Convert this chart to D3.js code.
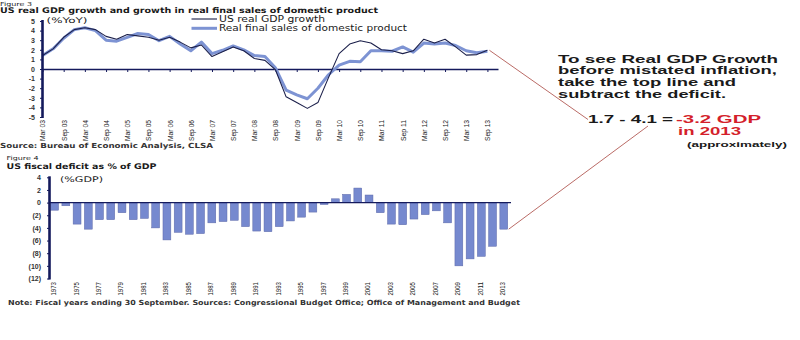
<!DOCTYPE html>
<html>
<head>
<meta charset="utf-8">
<script src="https://cdn.jsdelivr.net/npm/d3@7"></script>
<style>
body { margin: 0; background: #fff; }
svg { display: block; font-family: "DejaVu Sans", Verdana, sans-serif; }
</style>
</head>
<body>
<script>
//quarterly data, Mar 03 .. Sep 13
var quarterTicks = ["Mar 03","Sep 03","Mar 04","Sep 04","Mar 05","Sep 05","Mar 06","Sep 06",
    "Mar 07","Sep 07","Mar 08","Sep 08","Mar 09","Sep 09","Mar 10","Sep 10","Mar 11","Sep 11",
    "Mar 12","Sep 12","Mar 13","Sep 13"];
var gdpGrowth = [1.4, 2.1, 3.3, 4.1, 4.3, 4.1, 3.4, 3.1, 3.6, 3.45, 3.3, 3.0, 3.3, 2.8, 2.2, 2.5,
    1.3, 1.8, 2.3, 1.9, 1.1, 0.9, -0.1, -2.9, -3.5, -4.1, -3.5, -0.9, 1.6, 2.6, 2.95, 2.7,
    2.0, 1.9, 1.6, 1.9, 3.1, 2.7, 3.1, 2.3, 1.45, 1.5, 1.95];
var finalSales = [1.4, 2.1, 3.2, 4.1, 4.3, 4.0, 3.0, 2.9, 3.3, 3.7, 3.6, 2.95, 3.4, 2.6, 1.9, 2.8,
    1.6, 1.95, 2.4, 2.0, 1.4, 1.3, 0.1, -2.2, -2.7, -3.1, -2.0, -0.6, 0.4, 0.8, 0.75, 1.9,
    1.9, 1.85, 2.3, 1.75, 2.7, 2.6, 2.7, 2.45, 1.9, 1.7, 1.85];
var gdpTicks = [-5, -4, -3, -2, -1, 0, 1, 2, 3, 4, 5];

//fiscal years
var years = d3.range(1973, 2014);
var yearTicks = d3.range(1973, 2014, 2);
var deficit = [-1.2, -0.5, -3.4, -4.2, -2.7, -2.7, -1.6, -2.7, -2.5, -4.0, -5.9, -4.7, -5.0, -4.9,
    -3.2, -3.0, -2.8, -3.8, -4.5, -4.6, -3.8, -2.9, -2.3, -1.5, -0.3, 0.6, 1.3, 2.3, 1.2, -1.6,
    -3.4, -3.5, -2.6, -1.9, -1.3, -3.2, -10.0, -8.9, -8.5, -6.9, -4.2];
var deficitTicks = [-12, -10, -8, -6, -4, -2, 0, 2, 4];

var navy = "#141a5c",
    darkLine = "#1b1f4a",
    lightLine = "#7d93d3",
    barFill = "#7689cf",
    red = "#d41f2b",
    textCol = "#1a1a1a";

var svg = d3.select("body").append("svg")
    .attr("width", 800)
    .attr("height", 340);

//text helper, stretched to a measured width
function label(str, x, y, size, weight, len, color){
    var t = svg.append("text")
        .attr("x", x)
        .attr("y", y)
        .style("font-size", size + "px")
        .style("font-weight", weight || "normal")
        .style("fill", color || textCol)
        .text(str);
    if (len) t.attr("textLength", len).attr("lengthAdjust", "spacingAndGlyphs");
    return t;
}

// ---------- Figure 3 ----------
var x1 = d3.scaleLinear().domain([0, 43]).range([42.5, 498]);
var y1 = d3.scaleLinear().domain([-5, 5]).range([117, 21]);

label("Figure 3", 0, 5.5, 5.5, "normal", 32);
label("US real GDP growth and growth in real final sales of domestic product", 0, 12.5, 7.8, "bold", 378);
label("(%YoY)", 46.5, 23, 7.8, "normal", 41);

//x axis at zero
var xAxis1 = d3.axisBottom(x1)
    .tickValues(d3.range(0, 43, 2))
    .tickSize(3)
    .tickSizeOuter(0)
    .tickFormat(function(d){ return quarterTicks[d / 2]; });

var gx1 = svg.append("g")
    .attr("transform", "translate(0," + y1(0) + ")")
    .call(xAxis1);
gx1.select(".domain").attr("stroke", navy).attr("stroke-width", 1.3);
gx1.selectAll(".tick line").attr("stroke", navy);
gx1.selectAll(".tick text")
    .attr("transform", "rotate(-90)")
    .attr("x", -51)
    .attr("y", 0)
    .attr("dy", "0.35em")
    .attr("text-anchor", "end")
    .attr("textLength", 21)
    .attr("lengthAdjust", "spacingAndGlyphs")
    .style("font-family", "'Liberation Sans', Arial, sans-serif")
    .style("font-size", "7px")
    .style("fill", textCol);

//lines
var line1 = d3.line()
    .x(function(d, i){ return x1(i); })
    .y(function(d){ return y1(d); });

svg.append("path")
    .datum(finalSales)
    .attr("d", line1)
    .attr("fill", "none")
    .attr("stroke", lightLine)
    .attr("stroke-width", 3)
    .attr("stroke-linejoin", "round");

svg.append("path")
    .datum(gdpGrowth)
    .attr("d", line1)
    .attr("fill", "none")
    .attr("stroke", darkLine)
    .attr("stroke-width", 1.1)
    .attr("stroke-linejoin", "round");

//y axis
var yAxis1 = d3.axisLeft(y1)
    .tickValues(gdpTicks)
    .tickSize(2.5)
    .tickSizeOuter(0)
    .tickPadding(5)
    .tickFormat(function(d){ return String(d); });

var gy1 = svg.append("g")
    .attr("transform", "translate(42.5,0)")
    .call(yAxis1);
gy1.select(".domain").attr("stroke", navy).attr("stroke-width", 2.6)
    .attr("d", "M0," + (y1(5) - 1) + "V" + (y1(-5) + 1));
gy1.selectAll(".tick line").attr("stroke", navy);
gy1.selectAll(".tick text")
    .style("font-size", "7px")
    .style("font-weight", "bold")
    .style("fill", "#333");

//legend
var legend = [
    {name: "US real GDP growth", color: darkLine, w: 1.1, y: 19, len: 106},
    {name: "Real final sales of domestic product", color: lightLine, w: 3, y: 28.3, len: 188}
];
legend.forEach(function(l){
    svg.append("line")
        .attr("x1", 191.5).attr("x2", 217)
        .attr("y1", l.y).attr("y2", l.y)
        .attr("stroke", l.color)
        .attr("stroke-width", l.w);
    label(l.name, 219, l.y + 2.8, 8.3, "normal", l.len);
});

label("Source: Bureau of Economic Analysis, CLSA", 0, 148, 7, "bold", 213, "#333");

// ---------- Figure 4 ----------
var x2 = d3.scaleBand().domain(years).range([49, 509.4]).paddingInner(0.3).paddingOuter(0.15);
var y2 = d3.scaleLinear().domain([-12, 4]).range([278.5, 177.3]);

label("Figure 4", 6.5, 160, 5.5, "normal", 32);
label("US fiscal deficit as % of GDP", 6.5, 168.5, 7.8, "bold", 150);
label("(%GDP)", 60, 182, 7.8, "normal", 43);

svg.selectAll(".bar")
    .data(deficit)
    .enter()
    .append("rect")
    .attr("class", "bar")
    .attr("x", function(d, i){ return x2(years[i]); })
    .attr("width", x2.bandwidth())
    .attr("y", function(d){ return y2(Math.max(0, d)); })
    .attr("height", function(d){ return Math.abs(y2(d) - y2(0)); })
    .attr("fill", barFill)
    .attr("stroke", "#5c68a8")
    .attr("stroke-width", 0.5);

//x axis at zero
svg.append("line")
    .attr("x1", 49.5).attr("x2", 511)
    .attr("y1", y2(0)).attr("y2", y2(0))
    .attr("stroke", navy)
    .attr("stroke-width", 1.3);

svg.selectAll(".yearLabel")
    .data(yearTicks)
    .enter()
    .append("text")
    .attr("class", "yearLabel")
    .attr("transform", function(d){
        return "translate(" + (x2(d) + x2.bandwidth() / 2 - 1) + ",282) rotate(-90)";
    })
    .attr("dy", "0.35em")
    .attr("text-anchor", "end")
    .attr("textLength", 13.5)
    .attr("lengthAdjust", "spacingAndGlyphs")
    .style("font-family", "'Liberation Sans', Arial, sans-serif")
    .style("font-size", "7px")
    .style("fill", textCol)
    .text(function(d){ return d; });

var yAxis2 = d3.axisLeft(y2)
    .tickValues(deficitTicks)
    .tickSize(2.5)
    .tickSizeOuter(0)
    .tickPadding(6)
    .tickFormat(function(d){ return d < 0 ? "(" + (-d) + ")" : String(d); });

var gy2 = svg.append("g")
    .attr("transform", "translate(49.5,0)")
    .call(yAxis2);
gy2.select(".domain").attr("stroke", navy).attr("stroke-width", 2.6)
    .attr("d", "M0," + (y2(4) - 1) + "V" + (y2(-12) + 1));
gy2.selectAll(".tick line").attr("stroke", navy);
gy2.selectAll(".tick text")
    .style("font-size", "7px")
    .style("font-weight", "bold")
    .style("fill", "#333");

label("Note: Fiscal years ending 30 September. Sources: Congressional Budget Office; Office of Management and Budget",
    8, 305, 7, "bold", 512, "#333");

// ---------- annotation ----------
var last = gdpGrowth.length - 1;
svg.append("line")
    .attr("x1", x1(last) + 2).attr("y1", y1(gdpGrowth[last]))
    .attr("x2", 588).attr("y2", 119.5)
    .attr("stroke", "#a8453f").attr("stroke-width", 0.8);
svg.append("line")
    .attr("x1", x2(2013) + x2.bandwidth() + 1).attr("y1", y2(deficit[deficit.length - 1]))
    .attr("x2", 648).attr("y2", 126)
    .attr("stroke", "#a8453f").attr("stroke-width", 0.8);

var ann = "'Liberation Sans', Arial, sans-serif";
label("To see Real GDP Growth", 558, 62.7, 11, "bold", 220).style("font-family", ann);
label("before mistated inflation,", 558, 74.4, 11, "bold", 219).style("font-family", ann);
label("take the top line and", 558, 86, 11, "bold", 178).style("font-family", ann);
label("subtract the deficit.", 558, 97.7, 11, "bold", 168).style("font-family", ann);
label("1.7 - 4.1 =", 588, 122.7, 11, "bold", 85).style("font-family", ann);
label("-3.2 GDP", 676, 122.7, 11, "bold", 85, red).style("font-family", ann);
label("in 2013", 678, 135, 11, "bold", 63, red).style("font-family", ann);
label("(approximately)", 687, 147.3, 7, "bold", 100).style("font-family", ann);
</script>
</body>
</html>
